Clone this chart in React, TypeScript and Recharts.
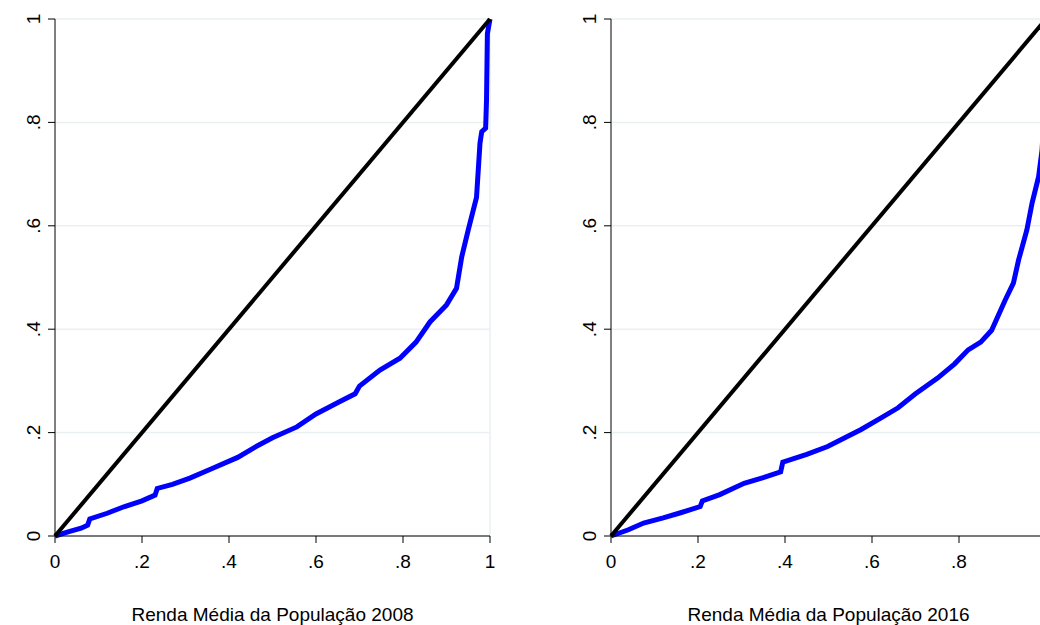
import { LineChart, Line, XAxis, YAxis, CartesianGrid, ReferenceLine } from 'recharts';

// Lorenz curve 2008 (cumulative population share vs cumulative income share)
const pop2008 = [0, 0.03, 0.06, 0.075, 0.08, 0.12, 0.16, 0.2, 0.23, 0.235, 0.27, 0.31, 0.36, 0.42, 0.46, 0.5, 0.556, 0.6, 0.655, 0.69, 0.7, 0.747, 0.793, 0.83, 0.862, 0.9, 0.923, 0.935, 0.95, 0.969, 0.977, 0.981, 0.99, 0.992, 0.994, 1];
const renda2008 = [0, 0.008, 0.015, 0.021, 0.033, 0.044, 0.057, 0.068, 0.079, 0.092, 0.1, 0.112, 0.13, 0.152, 0.172, 0.19, 0.211, 0.236, 0.26, 0.275, 0.29, 0.321, 0.344, 0.375, 0.414, 0.447, 0.479, 0.54, 0.592, 0.655, 0.76, 0.782, 0.789, 0.843, 0.972, 1];

// Lorenz curve 2016
const pop2016 = [0, 0.04, 0.075, 0.12, 0.16, 0.205, 0.21, 0.25, 0.306, 0.35, 0.39, 0.395, 0.45, 0.498, 0.575, 0.62, 0.66, 0.7, 0.75, 0.79, 0.821, 0.85, 0.875, 0.906, 0.925, 0.937, 0.956, 0.968, 0.983, 0.991, 0.996, 1];
const renda2016 = [0, 0.012, 0.025, 0.035, 0.045, 0.057, 0.068, 0.08, 0.102, 0.113, 0.124, 0.143, 0.158, 0.173, 0.206, 0.228, 0.248, 0.275, 0.305, 0.333, 0.36, 0.375, 0.398, 0.456, 0.489, 0.534, 0.592, 0.644, 0.695, 0.747, 0.82, 1];

// line of perfect equality
const igualdadeX = [0, 1];
const igualdadeY = [0, 1];

const ticks = [0, 0.2, 0.4, 0.6, 0.8, 1];
// right panel is cut at the window edge, its "1" label is not visible
const ticksCortados = [0, 0.2, 0.4, 0.6, 0.8];

const FONT = '"Liberation Sans", Arial, sans-serif';

const fmt = (v: number) => (v === 0 ? '0' : v === 1 ? '1' : String(v).replace(/^0/, ''));

const toPoints = (xs: number[], ys: number[]) => xs.map((x, i) => ({ x, y: ys[i] }));

function YTick(props: any) {
  const { y, payload } = props;
  const x = 40;
  return (
    <text
      x={x}
      y={y}
      transform={`rotate(-90, ${x}, ${y})`}
      textAnchor="middle"
      fontSize={19}
      fontFamily={FONT}
      fill="#000"
    >
      {fmt(payload.value)}
    </text>
  );
}

function XTick(props: any) {
  const { x, payload } = props;
  return (
    <text x={x} y={568} textAnchor="middle" fontSize={19} fontFamily={FONT} fill="#000">
      {fmt(payload.value)}
    </text>
  );
}

function LorenzPanel({ xs, ys, title, xTicks }: { xs: number[]; ys: number[]; title: string; xTicks: number[] }) {
  const curva = toPoints(xs, ys);
  const igualdade = toPoints(igualdadeX, igualdadeY);
  return (
    <LineChart width={522} height={625} margin={{ top: 19, right: 32, left: 0, bottom: 0 }}>
      <CartesianGrid stroke="#e9f0f2" strokeWidth={1.5} vertical={false} />
      <ReferenceLine x={1} stroke="#e9f0f2" strokeWidth={1.5} />
      <XAxis
        type="number"
        dataKey="x"
        domain={[0, 1]}
        ticks={xTicks}
        tick={<XTick />}
        tickSize={7}
        height={89}
        axisLine={{ stroke: '#000' }}
        tickLine={{ stroke: '#000' }}
        label={{ value: title, position: 'insideBottom', offset: 4, fontSize: 19, fill: '#000', fontFamily: FONT }}
      />
      <YAxis
        type="number"
        dataKey="y"
        domain={[0, 1]}
        ticks={ticks}
        tick={<YTick />}
        tickSize={7}
        width={55}
        axisLine={{ stroke: '#000' }}
        tickLine={{ stroke: '#000' }}
      />
      <Line data={curva} dataKey="y" stroke="#0000ff" strokeWidth={5} dot={false} isAnimationActive={false} />
      <Line data={igualdade} dataKey="y" stroke="#000" strokeWidth={4} dot={false} isAnimationActive={false} />
    </LineChart>
  );
}

export default function App() {
  return (
    <div
      style={{
        position: 'fixed',
        left: 0,
        top: 0,
        width: 1040,
        height: 625,
        overflow: 'hidden',
        background: '#fff',
      }}
    >
      <div style={{ position: 'absolute', left: 0, top: 0 }}>
        <LorenzPanel xs={pop2008} ys={renda2008} title="Renda Média da População 2008" xTicks={ticks} />
      </div>
      <div style={{ position: 'absolute', left: 556, top: 0 }}>
        <LorenzPanel xs={pop2016} ys={renda2016} title="Renda Média da População 2016" xTicks={ticksCortados} />
      </div>
    </div>
  );
}
